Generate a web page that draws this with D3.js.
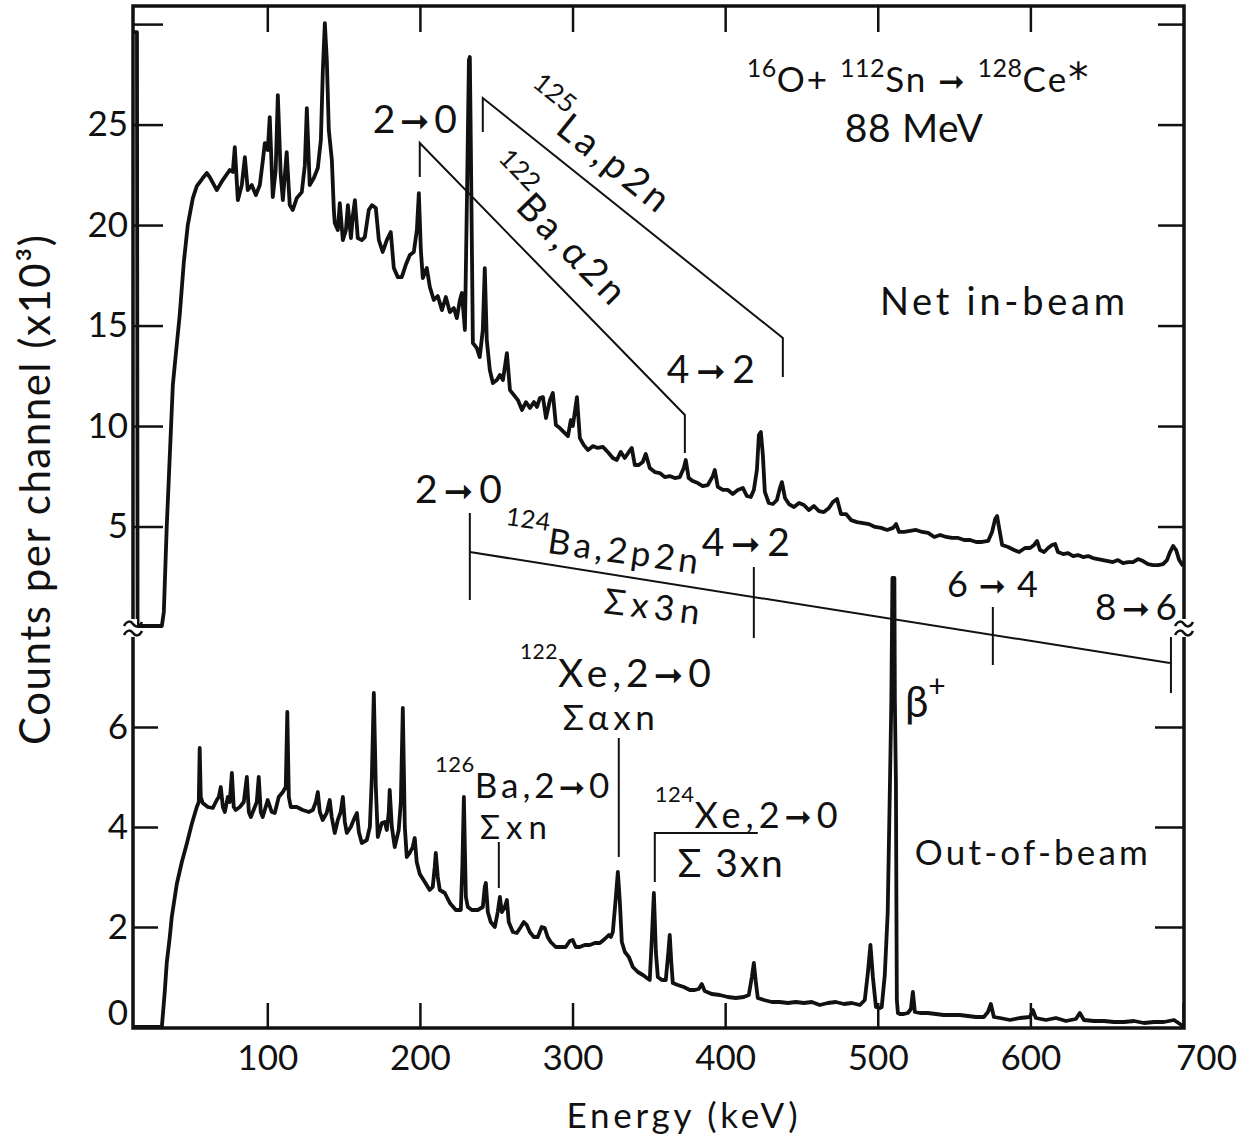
<!DOCTYPE html>
<html>
<head>
<meta charset="utf-8">
<script src="https://cdn.jsdelivr.net/npm/d3@7"></script>
<style>
html,body{margin:0;padding:0;background:#fff;}
svg{display:block;}
</style>
</head>
<body>
<svg id="chart" width="1256" height="1143"></svg>
<script>
// ---------------- data ----------------
// Net in-beam spectrum: energy (keV) and counts per channel (x10^3)
const inBeamEnergy = [12,14.6,15.0,30.9,32.2,34.1,38.1,40.0,42.6,45.3,47.9,51.2,53.8,57.7,60.4,62.3,66.9,70.8,75.4,77.4,78.7,80.7,83.3,85.3,87.2,89.8,92.5,95.1,97.1,98.4,100.3,101.6,103.6,105.5,106.9,108.8,110.2,112.7,114.7,116.7,119.3,122.6,124.6,125.9,127.8,130.5,133.1,135.1,136.4,137.7,139.0,140.3,142.3,143.6,144.2,146.2,147.5,149.5,151.5,152.8,154.8,156.1,157.4,159.3,161.9,163.9,166.5,168.5,171.1,173.1,175.6,178.3,180.9,182.9,185.5,188.1,190.7,193.4,196.0,198.0,199.3,200.6,201.9,204.5,206.5,209.1,211.7,214.4,217.0,219.6,222.2,224.2,226.2,227.5,229.5,230.8,232.1,232.7,233.4,234.7,237.3,239.2,241.2,242.5,243.8,245.8,247.8,250.4,252.4,254.4,257.0,259.0,261.6,264.2,266.9,269.5,272.1,274.7,276.7,278.6,280.6,282.6,285.2,287.1,289.1,291.7,294.3,297.0,298.9,300.2,302.9,304.8,307.4,310.1,313.3,316.6,319.9,323.1,326.4,329.0,331.6,334.2,336.9,338.8,340.8,343.4,346.0,348.0,350.6,353.9,357.2,360.4,363.7,367.0,370.3,372.9,374.2,376.1,378.8,382.1,385.3,388.6,391.9,393.2,395.2,398.5,401.8,405.0,408.3,411.6,414.2,416.8,418.8,420.8,422.1,423.4,424.7,426.0,428.6,431.3,433.9,435.9,437.2,439.2,441.8,445.1,448.4,451.6,454.9,458.2,461.5,464.7,468.0,470.6,473.3,475.9,479.2,482.5,486.4,490.3,494.3,498.2,502.2,506.1,510.0,512.0,514.0,517.3,521.2,525.1,529.1,533.0,537.0,540.9,544.8,548.7,552.7,556.6,560.5,564.5,568.4,572.3,574.9,576.9,578.2,579.5,581.5,585.4,589.3,592.6,596.5,599.8,602.4,604.4,606.3,609.0,611.6,614.2,616.2,618.1,621.4,624.7,628.0,631.2,634.5,637.8,641.0,644.3,647.6,650.9,654.1,657.4,660.7,664.0,667.3,670.5,673.8,677.1,680.4,683.7,686.9,689.5,691.5,693.5,695.5,697.5,700];
const inBeamCounts = [29.6,29.6,0.05,0.05,0.75,4.98,12.04,13.53,15.52,18.16,20.0,21.34,21.94,22.34,22.59,22.39,21.74,22.24,22.74,22.64,23.88,21.24,21.99,23.38,21.74,21.99,21.49,21.99,23.23,24.08,23.73,25.37,21.39,22.74,26.47,22.49,21.24,23.63,21.0,20.75,21.34,21.64,22.98,25.82,21.99,22.34,22.84,24.23,27.71,30.05,28.21,24.73,23.23,20.75,20.10,19.75,21.09,19.25,19.75,20.99,19.35,20.5,21.24,19.35,19.25,19.4,20.75,20.99,20.85,19.25,18.66,19.25,19.65,17.86,17.41,17.41,18.01,18.51,18.66,19.75,21.59,18.76,17.36,17.86,16.92,16.27,16.47,15.77,16.42,15.67,15.87,15.37,16.27,16.62,14.78,21.24,28.21,28.36,23.73,14.13,13.88,13.43,14.78,17.86,14.28,12.79,12.14,12.29,12.54,12.29,13.63,11.79,11.54,11.29,10.80,11.19,10.90,11.19,10.95,11.39,11.44,10.40,11.29,11.64,10.05,9.90,9.70,9.50,10.30,10.0,11.44,9.40,9.05,8.81,9.0,8.91,8.96,8.71,8.41,8.31,8.71,8.41,8.71,8.91,8.06,8.06,8.21,8.61,7.91,7.71,7.66,7.46,7.51,7.41,7.46,7.91,8.31,7.41,7.26,7.16,7.01,7.06,7.51,7.81,6.97,6.82,6.82,6.62,6.82,6.92,6.52,6.47,6.82,7.81,9.55,9.70,8.56,6.72,6.17,6.12,6.32,6.92,7.21,6.42,6.12,5.97,6.17,6.07,5.82,6.02,5.77,5.72,5.92,6.22,6.37,5.62,5.62,5.32,5.22,5.17,5.12,4.98,4.93,4.83,4.93,5.12,4.73,4.73,4.78,4.83,4.73,4.68,4.48,4.58,4.48,4.43,4.43,4.33,4.33,4.23,4.23,4.28,4.73,5.37,5.52,4.93,4.08,3.98,3.83,3.73,3.93,3.93,4.08,4.28,3.83,3.73,3.93,4.08,4.13,3.73,3.63,3.68,3.53,3.58,3.48,3.53,3.43,3.38,3.33,3.28,3.23,3.33,3.18,3.23,3.23,3.38,3.28,3.13,3.08,3.08,3.13,3.33,3.73,4.03,3.83,3.33,3.03];

// Out-of-beam spectrum: energy (keV) and counts per channel (x10^3)
const outBeamEnergy = [12,30.9,32.8,34.1,36.1,37.4,39.4,40.7,44.0,47.2,50.5,53.8,55.1,55.7,56.4,57.7,61.0,64.3,66.9,68.2,69.5,70.9,72.2,74.1,75.4,76.8,78.0,79.3,82.0,84.6,86.6,87.9,89.2,91.8,93.1,94.4,95.7,97.0,100.3,102.9,104.9,107.5,110.2,112.1,113.1,114.1,115.4,119.3,123.2,127.2,129.8,131.8,133.1,134.4,136.3,138.9,140.9,142.2,144.2,146.2,148.1,149.5,150.8,152.1,154.7,157.4,158.7,160.0,161.9,165.2,167.2,168.5,169.8,171.1,172.4,175.0,177.0,178.3,179.6,180.2,181.6,183.5,186.1,187.5,188.8,190.1,191.4,193.3,195.3,196.6,197.9,199.9,203.2,206.4,208.4,209.7,210.4,211.7,213.0,216.3,219.6,223.5,226.8,227.8,228.8,230.1,231.4,234.0,237.9,241.2,242.5,243.2,244.5,246.4,249.1,251.0,252.4,253.7,255.6,257.0,258.2,260.9,263.5,266.1,268.1,270.0,272.0,274.6,277.2,279.8,281.8,283.7,285.7,289.0,292.2,295.5,298.2,300.1,302.1,304.7,308.0,311.3,314.6,317.9,321.1,323.8,325.1,326.4,328.4,329.7,331.0,332.3,334.3,336.9,339.5,342.8,346.1,348.7,350.6,352.0,353.3,354.6,355.9,358.5,361.1,362.8,363.7,364.7,365.7,369.0,372.9,376.8,380.1,382.7,384.7,386.6,391.2,396.5,401.7,407.0,412.2,415.5,417.5,418.8,420.1,421.4,425.4,430.6,435.8,441.1,446.3,451.6,456.8,462.0,467.3,472.5,477.8,483.0,488.3,491.5,493.5,495.2,496.8,498.8,501.4,502.6,504.6,506.5,507.8,508.9,509.6,510.9,511.2,511.9,512.2,512.5,513.2,514.5,517.1,519.7,521.7,523.0,524.3,527.6,532.8,538.1,543.3,548.6,553.8,559.1,564.3,569.5,572.2,574.1,576.1,580.0,586.6,593.1,599.7,601.6,603.6,610.2,616.7,623.3,629.8,632.4,635.1,641.6,648.2,654.8,661.3,667.9,674.4,681.0,687.5,694.1,700];
const outBeamCounts = [0,0,0.7,1.28,1.8,2.2,2.6,2.86,3.3,3.66,4.06,4.4,4.5,5.58,4.6,4.48,4.40,4.38,4.54,4.6,4.80,4.4,4.30,4.6,4.5,5.08,4.4,4.34,4.40,4.5,5.00,4.3,4.2,4.40,4.5,5.00,4.3,4.2,4.54,4.3,4.28,4.6,4.7,4.8,6.30,4.6,4.4,4.40,4.34,4.3,4.34,4.5,4.7,4.3,4.14,4.28,4.54,4.2,3.88,4.14,4.3,4.60,4.1,3.88,4.0,4.2,4.28,3.9,3.68,3.74,4.0,5.0,6.68,4.8,3.8,4.08,4.1,3.94,4.3,4.74,4.0,3.6,3.94,4.5,6.38,4.0,3.4,3.48,3.6,3.78,3.3,3.06,2.9,2.74,2.8,3.2,3.48,3.0,2.74,2.68,2.48,2.34,2.34,3.2,4.6,2.6,2.4,2.34,2.34,2.4,2.8,2.88,2.3,2.1,2.0,2.3,2.6,2.3,2.4,2.54,2.1,1.9,1.88,2.0,2.1,2.04,1.9,1.8,1.8,2.0,1.98,1.8,1.7,1.6,1.6,1.6,1.72,1.74,1.6,1.6,1.64,1.64,1.68,1.68,1.76,1.84,1.8,1.9,2.6,3.1,2.5,1.7,1.5,1.4,1.2,1.1,1.04,0.98,0.94,1.8,2.68,1.5,1.0,0.94,0.94,1.5,1.84,1.3,0.88,0.84,0.8,0.74,0.74,0.76,0.86,0.72,0.66,0.64,0.6,0.58,0.6,0.64,1.0,1.28,0.9,0.58,0.54,0.5,0.5,0.48,0.5,0.48,0.5,0.44,0.48,0.5,0.46,0.48,0.44,0.54,1.08,1.64,1.0,0.4,0.38,0.4,1.04,2.28,4.54,6.54,8.98,8.98,6.54,4.88,2.54,0.54,0.28,0.26,0.26,0.28,0.36,0.7,0.3,0.28,0.28,0.26,0.24,0.24,0.24,0.22,0.2,0.2,0.3,0.46,0.2,0.18,0.14,0.18,0.2,0.34,0.18,0.14,0.18,0.12,0.16,0.28,0.14,0.12,0.12,0.1,0.1,0.12,0.08,0.1,0.1,0.14,0.02];

const energyTicks = [100,200,300,400,500,600,700];
const inBeamTicks = [5,10,15,20,25,30];
const inBeamTickLabels = ["5","10","15","20","25",""];
const outBeamTicks = [0,2,4,6];
const outBeamTickLabels = ["0","2","4","6"];

// transition markers (keV, counts) used for the level-scheme brackets
const laBracket = [[241.2,24.63],[241.2,26.32],[437.8,14.38],[437.8,12.44]];      // in-beam scale
const baBracket = [[199.9,22.39],[199.9,24.08],[373.6,10.55],[373.6,8.66]];       // in-beam scale
const ba124Line = [[232.7,9.5],[691.4,7.28]];                                     // out-of-beam scale
const ba124Marks = [[232.7,10.28,8.54],[418.8,9.2,7.78],[575.4,8.4,7.24],[692.1,7.8,6.68]];
const xe122Mark = [330.3,5.78,3.4];
const ba126Mark = [251.7,3.7,2.78];
const xe124Bracket = [[421.4,3.88],[353.9,3.88],[353.9,2.9]];

// ---------------- drawing ----------------
const W = 1256, H = 1143, INK = "#111";
const FONT = "Lato, 'DejaVu Sans', sans-serif";
const ARROW = "➞";
const svg = d3.select("#chart");
svg.append("rect").attr("width", W).attr("height", H).attr("fill", "#fff");

const x = d3.scaleLinear().domain([12, 700]).range([133, 1183]);
const yIn = d3.scaleLinear().domain([0, 31]).range([627, 4]);
const yOut = d3.scaleLinear().domain([0, 8]).range([1027, 627]);

const fL = x.range()[0], fR = x.range()[1] + 1, fT = 6, fB = yOut.range()[0] + 1;

// frame
svg.append("rect").attr("x", fL).attr("y", fT).attr("width", fR - fL).attr("height", fB - fT)
  .attr("fill", "none").attr("stroke", INK).attr("stroke-width", 3.5);

function styleAxis(g) {
  g.select(".domain").remove();
  g.selectAll(".tick line").attr("stroke", INK).attr("stroke-width", 2.5);
  g.selectAll(".tick text").attr("fill", INK);
  g.attr("font-family", FONT).attr("font-size", 35);
}

const gx = svg.append("g").attr("transform", `translate(0,${fB})`)
  .call(d3.axisBottom(x).tickValues(energyTicks).tickSize(-25).tickPadding(17).tickFormat(d3.format("d")))
  .call(styleAxis);
gx.selectAll(".tick text").filter(d => d === 700).attr("dx", 23);

svg.append("g").attr("transform", `translate(0,${fT})`)
  .call(d3.axisTop(x).tickValues(energyTicks.slice(0, 6)).tickSize(-26).tickFormat(() => ""))
  .call(styleAxis);

svg.append("g").attr("transform", `translate(${fL},0)`)
  .call(d3.axisLeft(yIn).tickValues(inBeamTicks).tickSize(-30).tickPadding(5)
    .tickFormat(d => inBeamTickLabels[inBeamTicks.indexOf(d)]))
  .call(styleAxis);

svg.append("g").attr("transform", `translate(${fR - 1},0)`)
  .call(d3.axisRight(yIn).tickValues(inBeamTicks).tickSize(-25).tickFormat(() => ""))
  .call(styleAxis);

const gyo = svg.append("g").attr("transform", `translate(${fL},0)`)
  .call(d3.axisLeft(yOut).tickValues(outBeamTicks).tickSize(-25).tickPadding(5)
    .tickFormat(d => outBeamTickLabels[outBeamTicks.indexOf(d)]))
  .call(styleAxis);
gyo.selectAll(".tick text").filter(d => d === 0).attr("y", -14);

svg.append("g").attr("transform", `translate(${fR - 1},0)`)
  .call(d3.axisRight(yOut).tickValues(outBeamTicks.slice(1)).tickSize(-28).tickFormat(() => ""))
  .call(styleAxis);

// spectra
const nIn = Math.min(inBeamEnergy.length, inBeamCounts.length);
const nOut = Math.min(outBeamEnergy.length, outBeamCounts.length);
const inBeam = d3.range(nIn).map(i => [inBeamEnergy[i], inBeamCounts[i]]);
const outBeam = d3.range(nOut).map(i => [outBeamEnergy[i], outBeamCounts[i]]);
svg.append("path").datum(inBeam)
  .attr("d", d3.line().x(d => x(d[0])).y(d => yIn(d[1])))
  .attr("fill", "none").attr("stroke", INK).attr("stroke-width", 3.8).attr("stroke-linejoin", "round");
svg.append("path").datum(outBeam)
  .attr("d", d3.line().x(d => x(d[0])).y(d => yOut(d[1])))
  .attr("fill", "none").attr("stroke", INK).attr("stroke-width", 3.8).attr("stroke-linejoin", "round");

// axis breaks
function breakMark(cx, cy) {
  const g = svg.append("g").attr("transform", `translate(${cx},${cy})`);
  g.append("rect").attr("x", -4).attr("y", -9).attr("width", 8).attr("height", 18).attr("fill", "#fff");
  [-4, 5].forEach(dy => g.append("path")
    .attr("d", `M-9,${dy + 2} C-6,${dy - 4} -2,${dy - 3} 0,${dy} S6,${dy + 4} 9,${dy - 2}`)
    .attr("fill", "none").attr("stroke", INK).attr("stroke-width", 2.5));
}
breakMark(fL, yIn(0) + 1);
breakMark(fR, yIn(0) + 1);

// level-scheme brackets
const ann = svg.append("g").attr("fill", "none").attr("stroke", INK).attr("stroke-width", 2);
const lineIn = d3.line().x(d => x(d[0])).y(d => yIn(d[1]));
const lineOut = d3.line().x(d => x(d[0])).y(d => yOut(d[1]));
ann.append("path").attr("d", lineIn(laBracket));
ann.append("path").attr("d", lineIn(baBracket));
ann.append("path").attr("d", lineOut(ba124Line));
ba124Marks.forEach(m => ann.append("path").attr("d", lineOut([[m[0], m[1]], [m[0], m[2]]])));
ann.append("path").attr("d", lineOut([[xe122Mark[0], xe122Mark[1]], [xe122Mark[0], xe122Mark[2]]]));
ann.append("path").attr("d", lineOut([[ba126Mark[0], ba126Mark[1]], [ba126Mark[0], ba126Mark[2]]]));
ann.append("path").attr("d", lineOut(xe124Bracket));

// rich text helper: {..} = superscript, → = arrow, * = large asterisk
const txt = svg.append("g");
function rich(px, py, str, o) {
  const t = txt.append("text").attr("x", px).attr("y", py).attr("font-size", o.size)
    .attr("font-family", FONT).attr("fill", INK);
  if (o.anchor) t.attr("text-anchor", o.anchor);
  if (o.len) t.attr("textLength", o.len).attr("lengthAdjust", "spacing");
  if (o.ls) t.attr("letter-spacing", o.ls);
  if (o.rotate != null) t.attr("transform", `rotate(${o.rotate},${px},${py})`);
  const shift = o.shift != null ? o.shift : o.size * 0.6;
  let raised = false;
  str.split(/(\{[^}]*\}|→|\*)/).filter(s => s.length).forEach(tok => {
    if (tok[0] === "{") {
      t.append("tspan").attr("font-size", o.sup || o.size * 0.62).attr("letter-spacing", 0.5)
        .attr("dy", raised ? 0 : -shift).text(tok.slice(1, -1));
      raised = true;
    } else if (tok === "→") {
      t.append("tspan").attr("font-family", "'DejaVu Sans', sans-serif").attr("font-size", o.size * 0.9)
        .attr("dy", raised ? shift : 0).text(ARROW);
      raised = false;
    } else if (tok === "*") {
      t.append("tspan").attr("font-family", "'DejaVu Sans', sans-serif").attr("font-size", o.size * 1.15)
        .attr("dy", raised ? shift : 0).text("*");
      raised = false;
    } else {
      t.append("tspan").attr("dy", raised ? shift : 0).text(tok);
      raised = false;
    }
  });
  return t;
}

// horizontal labels
const hLabels = [
  {E:169.1, v:24.58, s:yIn, str:"2→0", size:39, len:84},
  {E:361.8, v:12.14, s:yIn, str:"4→2", size:39, len:88},
  {E:196.7, v:6.17, s:yIn, str:"2→0", size:39, len:87},
  {E:384.7, v:3.53, s:yIn, str:"4→2", size:39, len:88},
  {E:545.3, v:1.49, s:yIn, str:"6→4", size:36, len:91},
  {E:642.3, v:0.35, s:yIn, str:"8→6", size:37, len:82},
  {E:265.5, v:6.8, s:yOut, str:"{122}Xe,2→0", size:39, sup:21, shift:28, ls:5},
  {E:293.6, v:5.94, s:yOut, str:"Σαxn", size:35, len:92},
  {E:209.8, v:4.58, s:yOut, str:"{126}Ba,2→0", size:35, sup:22, shift:26, ls:4},
  {E:239.3, v:3.76, s:yOut, str:"Σxn", size:33, len:67},
  {E:353.9, v:3.98, s:yOut, str:"{124}Xe,2→0", size:36, sup:22, shift:26, ls:5},
  {E:369.0, v:3.0, s:yOut, str:"Σ 3xn", size:39, len:105},
  {E:517.8, v:6.2, s:yOut, str:"β{+}", size:42, sup:30, shift:20},
  {E:524.3, v:3.24, s:yOut, str:"Out-of-beam", size:35, len:233},
  {E:501.4, v:15.52, s:yIn, str:"Net in-beam", size:38, len:245},
  {E:478.4, v:24.13, s:yIn, str:"88 MeV", size:39, len:138},
  {E:414.2, v:26.62, s:yIn, str:"{16}O+ {112}Sn → {128}Ce*", size:35, sup:25, shift:15, ls:2},
  {E:253.7, v:4.0, s:yIn, str:"{124}Ba,2p2n", size:35, sup:25, shift:22, ls:4, rotate:8},
  {E:319.9, v:0.7, s:yIn, str:"Σx3n", size:35, len:96, rotate:7}
];
hLabels.forEach(l => rich(x(l.E), l.s(l.v), l.str, l));

// labels along brackets
function along(br, scale, str, dist, off, o) {
  const p1 = [x(br[1][0]), scale(br[1][1])], p2 = [x(br[2][0]), scale(br[2][1])];
  const ang = Math.atan2(p2[1] - p1[1], p2[0] - p1[0]);
  const c = Math.cos(ang), s = Math.sin(ang);
  const px = p1[0] + dist * c + off * s, py = p1[1] + dist * s - off * c;
  rich(px, py, str, Object.assign({rotate: ang * 180 / Math.PI}, o));
}
along(laBracket, yIn, "{125}La,p2n", 30, 18, {size:38, sup:26, shift:22, ls:4});
along(baBracket, yIn, "{122}Ba,α2n", 66, 22, {size:38, sup:26, shift:22, ls:4});

// axis titles
txt.append("text").attr("x", 682).attr("y", 1128).attr("text-anchor", "middle")
  .attr("font-family", FONT).attr("font-size", 35).attr("fill", INK)
  .attr("textLength", 231).attr("lengthAdjust", "spacing").text("Energy (keV)");
txt.append("text").attr("transform", "translate(50,490) rotate(-90)").attr("text-anchor", "middle")
  .attr("font-family", FONT).attr("font-size", 42).attr("fill", INK)
  .attr("textLength", 510).attr("lengthAdjust", "spacing").text("Counts per channel (x10³)");
</script>
</body>
</html>
